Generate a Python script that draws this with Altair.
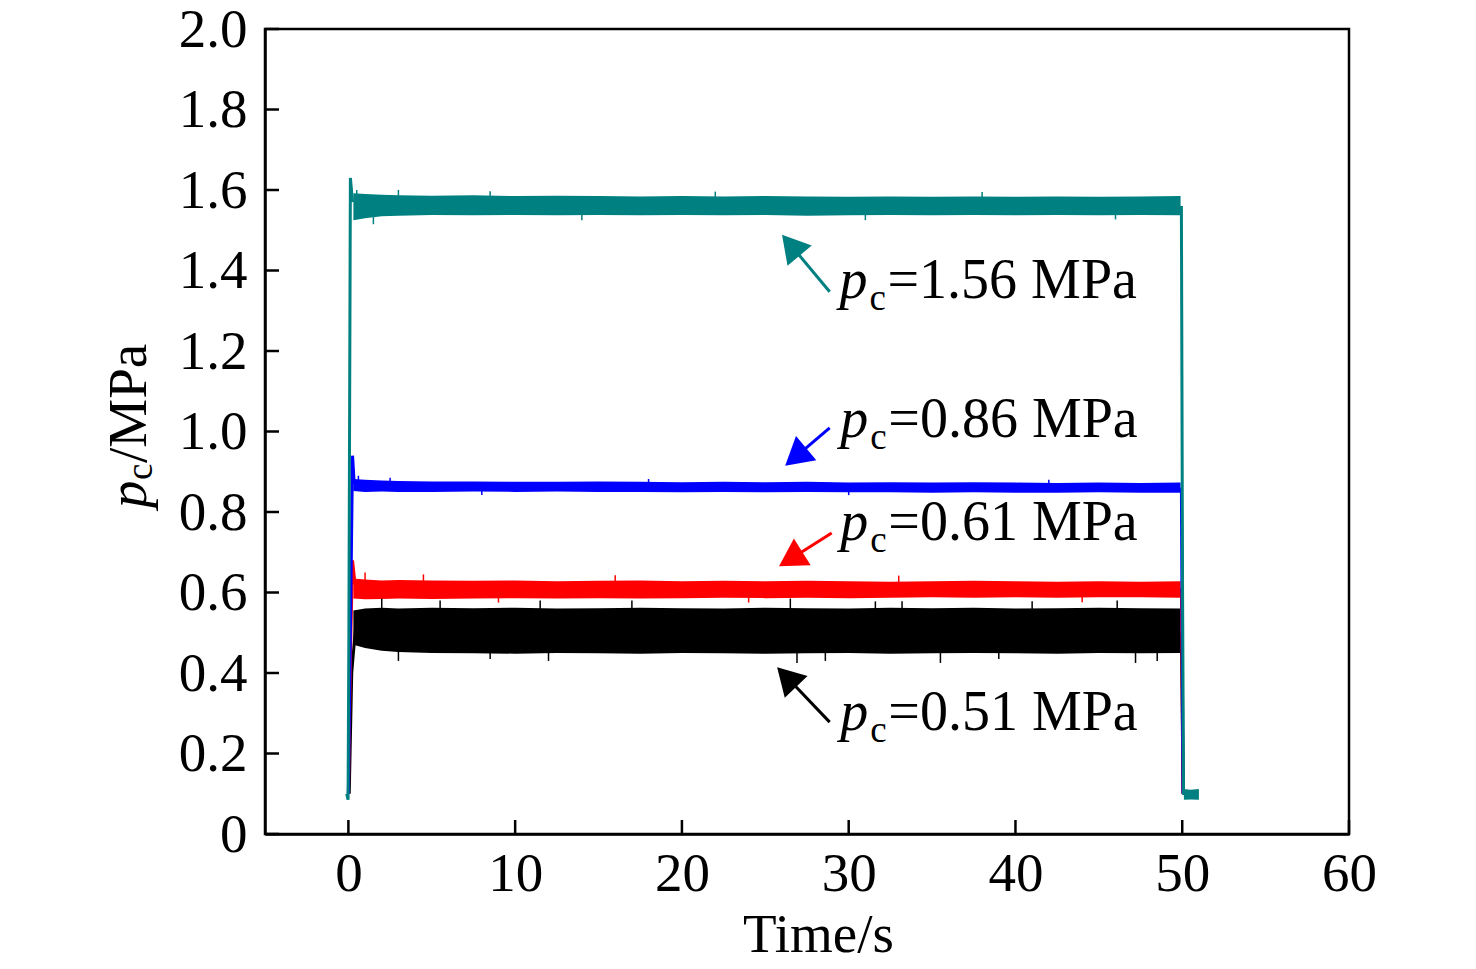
import altair as alt
import pandas as pd

FONT = "Liberation Serif"

# ---------------- axis ticks ----------------
x_ticks = [0, 10, 20, 30, 40, 50, 60]
y_ticks = [0, 0.2, 0.4, 0.6, 0.8, 1.0, 1.2, 1.4, 1.6, 1.8, 2.0]

series_names = ["0.51", "0.61", "0.86", "1.56"]
series_colors = ["#000000", "#FF0000", "#0000FF", "#008080"]

# ---------------- steady-state envelopes (min / max) ----------------
band_t = [0.3, 1, 2, 3, 5, 7.5, 10, 12.5, 15, 17.5, 20, 22.5, 25, 27.5, 30,
          32.5, 35, 37.5, 40, 42.5, 45, 47.5, 49.9]
black_hi = [0.555, 0.560, 0.562, 0.560, 0.562, 0.561, 0.562, 0.560, 0.561, 0.562, 0.561, 0.560,
            0.562, 0.561, 0.560, 0.562, 0.561, 0.562, 0.560, 0.561, 0.562, 0.561, 0.560]
black_lo = [0.470, 0.462, 0.455, 0.452, 0.450, 0.449, 0.448, 0.450, 0.449, 0.448, 0.450, 0.449,
            0.448, 0.449, 0.450, 0.448, 0.449, 0.450, 0.449, 0.448, 0.450, 0.449, 0.450]
red_hi = [0.635, 0.632, 0.630, 0.631, 0.630, 0.629, 0.630, 0.628, 0.629, 0.630, 0.628, 0.629,
          0.628, 0.629, 0.628, 0.627, 0.628, 0.629, 0.628, 0.627, 0.628, 0.627, 0.628]
red_lo = [0.585, 0.583, 0.584, 0.585, 0.584, 0.585, 0.586, 0.585, 0.586, 0.585, 0.586, 0.587,
          0.586, 0.587, 0.586, 0.587, 0.588, 0.587, 0.588, 0.587, 0.588, 0.588, 0.587]
blue_hi = [0.882, 0.880, 0.878, 0.877, 0.876, 0.876, 0.875, 0.875, 0.876, 0.875, 0.874, 0.875,
           0.874, 0.875, 0.873, 0.874, 0.873, 0.874, 0.873, 0.872, 0.873, 0.872, 0.873]
blue_lo = [0.852, 0.850, 0.851, 0.850, 0.850, 0.851, 0.850, 0.851, 0.850, 0.850, 0.849, 0.850,
           0.849, 0.850, 0.849, 0.849, 0.848, 0.849, 0.848, 0.848, 0.849, 0.848, 0.848]
teal_hi = [1.592, 1.590, 1.588, 1.587, 1.586, 1.587, 1.585, 1.586, 1.585, 1.584, 1.585, 1.584,
           1.585, 1.584, 1.583, 1.584, 1.583, 1.584, 1.583, 1.584, 1.583, 1.584, 1.585]
teal_lo = [1.525, 1.530, 1.535, 1.536, 1.538, 1.537, 1.538, 1.537, 1.538, 1.537, 1.538, 1.537,
           1.538, 1.536, 1.537, 1.538, 1.537, 1.538, 1.537, 1.538, 1.537, 1.538, 1.537]

# tail after switch-off (teal)
tail_t = [50.1, 50.5, 51.0]
tail_hi = [0.112, 0.110, 0.112]
tail_lo = [0.085, 0.086, 0.085]

# ---------------- start-up / shut-down traces ----------------
black_up_t = [0.05, 0.2, 0.3, 0.45, 0.8]
black_up_v = [0.10, 0.40, 0.45, 0.52, 0.50]
red_up_t = [0.0, 0.15, 0.25, 0.4]
red_up_v = [0.10, 0.50, 0.68, 0.62]
blue_up_t = [0.0, 0.15, 0.25, 0.35]
blue_up_v = [0.10, 0.60, 0.94, 0.87]
teal_up_t = [-0.1, -0.02, 0.03, 0.12, 0.25]
teal_up_v = [0.100, 0.085, 0.50, 1.63, 1.57]

down_t = [49.95, 50.05]
black_down_v = [0.50, 0.10]
red_down_v = [0.61, 0.10]
blue_down_v = [0.86, 0.10]
teal_down_t = [49.95, 50.02, 50.08]
teal_down_v = [1.56, 0.60, 0.097]

# ---------------- isolated spikes (time, peak value) ----------------
black_spike_t = [2.0, 3.0, 5.5, 8.5, 11.5, 12.0, 17.0, 26.5, 26.9, 28.6, 31.6, 33.2,
                 35.5, 39.0, 41.0, 46.1, 47.2, 48.5]
black_spike_v = [0.585, 0.430, 0.580, 0.435, 0.580, 0.430, 0.580, 0.585, 0.425, 0.430, 0.578, 0.578,
                 0.425, 0.435, 0.578, 0.580, 0.425, 0.430]
red_spike_t = [1.0, 4.5, 9.0, 16.0, 24.0, 33.0, 44.0]
red_spike_v = [0.650, 0.645, 0.575, 0.643, 0.575, 0.642, 0.576]
blue_spike_t = [0.6, 2.5, 8.0, 18.0, 30.0, 42.0]
blue_spike_v = [0.890, 0.885, 0.842, 0.882, 0.842, 0.880]
teal_spike_t = [0.5, 1.5, 3.0, 8.5, 14.0, 22.0, 31.0, 38.0, 46.0]
teal_spike_v = [1.600, 1.515, 1.600, 1.597, 1.525, 1.596, 1.525, 1.595, 1.527]

# ---------------- annotations ----------------
label_values = ["=0.51 MPa", "=0.61 MPa", "=0.86 MPa", "=1.56 MPa"]
label_t = [29.5, 29.5, 29.5, 29.45]
label_v = [0.258, 0.730, 0.986, 1.332]
arrow_tail_t = [28.86, 28.98, 28.86, 28.86]
arrow_tail_v = [0.278, 0.748, 1.009, 1.347]
arrow_head_t = [26.28, 26.52, 26.82, 26.53]
arrow_head_v = [0.390, 0.683, 0.937, 1.463]
arrow_angle = [316, 238, 230, 320]

# ================= build tables =================
band_rows = []
for name, hi, lo in zip(series_names, [black_hi, red_hi, blue_hi, teal_hi],
                        [black_lo, red_lo, blue_lo, teal_lo]):
    for t, h, l in zip(band_t, hi, lo):
        band_rows.append({"series": name, "seg": name + "_main", "t": t, "hi": h, "lo": l})
for t, h, l in zip(tail_t, tail_hi, tail_lo):
    band_rows.append({"series": "1.56", "seg": "tail", "t": t, "hi": h, "lo": l})
bands = pd.DataFrame(band_rows)

trace_rows = []
ups = {"0.51": (black_up_t, black_up_v), "0.61": (red_up_t, red_up_v),
       "0.86": (blue_up_t, blue_up_v), "1.56": (teal_up_t, teal_up_v)}
downs = {"0.51": (down_t, black_down_v), "0.61": (down_t, red_down_v),
         "0.86": (down_t, blue_down_v), "1.56": (teal_down_t, teal_down_v)}
for name in series_names:
    for i, (t, v) in enumerate(zip(*ups[name])):
        trace_rows.append({"series": name, "seg": name + "_up", "t": t, "v": v, "o": i})
    for i, (t, v) in enumerate(zip(*downs[name])):
        trace_rows.append({"series": name, "seg": name + "_down", "t": t, "v": v, "o": i})
traces = pd.DataFrame(trace_rows)

spike_rows = []
spike_mid = {"0.51": 0.51, "0.61": 0.607, "0.86": 0.862, "1.56": 1.56}
for name, ts, vs in zip(series_names, [black_spike_t, red_spike_t, blue_spike_t, teal_spike_t],
                        [black_spike_v, red_spike_v, blue_spike_v, teal_spike_v]):
    for t, v in zip(ts, vs):
        spike_rows.append({"series": name, "t": t, "v": v, "mid": spike_mid[name]})
spikes = pd.DataFrame(spike_rows)

ann = pd.DataFrame({
    "series": series_names, "text": label_values, "lt": label_t, "lv": label_v,
    "tt": arrow_tail_t, "tv": arrow_tail_v, "ht": arrow_head_t, "hv": arrow_head_v,
    "ang": arrow_angle,
})

xs = alt.Scale(domain=[-5, 60], nice=False, zero=False)
ys = alt.Scale(domain=[0, 2.0], nice=False, zero=False)
col = alt.Color("series:N", scale=alt.Scale(domain=series_names, range=series_colors), legend=None)

x_axis = alt.Axis(values=x_ticks, ticks=False, grid=False, labelFont=FONT, labelFontSize=55,
                  labelColor="black", labelPadding=13, domainColor="black", domainWidth=2.5,
                  title="Time/s", titleFont=FONT, titleFontSize=55, titleFontWeight="normal",
                  titleColor="black", titlePadding=7, titleX=553, labelFlush=False)
y_axis = alt.Axis(values=y_ticks, ticks=False, grid=False, labelFont=FONT, labelFontSize=55,
                  labelColor="black", labelPadding=18, domainColor="black", domainWidth=2.5,
                  title=None, labelExpr="datum.value == 0 ? '0' : format(datum.value, '.1f')")

band_layer = alt.Chart(bands).mark_area(opacity=1, strokeWidth=0).encode(
    x=alt.X("t:Q", scale=xs, axis=x_axis),
    y=alt.Y("hi:Q", scale=ys, axis=y_axis),
    y2="lo:Q",
    color=col,
    detail="seg:N",
)

spike_layer = alt.Chart(spikes).mark_rule(strokeWidth=1.5).encode(
    x=alt.X("t:Q", scale=xs), y=alt.Y("v:Q", scale=ys), y2="mid:Q", color=col)

trace_layer = alt.Chart(traces).mark_line(strokeWidth=3).encode(
    x=alt.X("t:Q", scale=xs), y=alt.Y("v:Q", scale=ys), color=col,
    detail="seg:N", order="o:Q")

arrow_line = alt.Chart(ann).mark_rule(strokeWidth=3).encode(
    x=alt.X("tt:Q", scale=xs), y=alt.Y("tv:Q", scale=ys), x2="ht:Q", y2="hv:Q", color=col)
arrow_head = alt.Chart(ann).mark_point(shape="triangle-up", filled=True, opacity=1, size=1000).encode(
    x=alt.X("ht:Q", scale=xs), y=alt.Y("hv:Q", scale=ys), angle=alt.Angle("ang:Q", scale=None),
    color=col)

lab_p = alt.Chart(ann).mark_text(font=FONT, fontSize=56, fontStyle="italic", align="left",
                                 baseline="alphabetic", color="black").encode(
    x=alt.X("lt:Q", scale=xs), y=alt.Y("lv:Q", scale=ys), text=alt.value("p"))
lab_c = alt.Chart(ann).mark_text(font=FONT, fontSize=37, align="left", baseline="alphabetic",
                                 color="black", dx=30, dy=12).encode(
    x=alt.X("lt:Q", scale=xs), y=alt.Y("lv:Q", scale=ys), text=alt.value("c"))
lab_rest = alt.Chart(ann).mark_text(font=FONT, fontSize=56, align="left", baseline="alphabetic",
                                    color="black", dx=48).encode(
    x=alt.X("lt:Q", scale=xs), y=alt.Y("lv:Q", scale=ys), text="text:N")

# inward ticks
xt = pd.DataFrame({"t": x_ticks})
yt = pd.DataFrame({"v": y_ticks})
xtick_layer = alt.Chart(xt).mark_rule(strokeWidth=2.5, color="black").encode(
    x=alt.X("t:Q", scale=xs), y=alt.value(805), y2=alt.value(791))
ytick_layer = alt.Chart(yt).mark_rule(strokeWidth=2.5, color="black").encode(
    y=alt.Y("v:Q", scale=ys), x=alt.value(0), x2=alt.value(14))

# y-axis title p_c/MPa (rotated)
yt_df = pd.DataFrame({"k": [0]})
ytitle_p = alt.Chart(yt_df).mark_text(font=FONT, fontSize=55, fontStyle="italic", align="left",
                                      baseline="alphabetic", angle=270, color="black").encode(
    x=alt.value(-119), y=alt.value(479), text=alt.value("p"))
ytitle_c = alt.Chart(yt_df).mark_text(font=FONT, fontSize=37, align="left", baseline="alphabetic",
                                      angle=270, color="black", dx=28, dy=6).encode(
    x=alt.value(-119), y=alt.value(479), text=alt.value("c"))
ytitle_r = alt.Chart(yt_df).mark_text(font=FONT, fontSize=55, align="left", baseline="alphabetic",
                                      angle=270, color="black", dx=45).encode(
    x=alt.value(-119), y=alt.value(479), text=alt.value("/MPa"))

chart = alt.layer(
    band_layer, spike_layer, trace_layer, arrow_line, arrow_head,
    lab_p, lab_c, lab_rest, xtick_layer, ytick_layer, ytitle_p, ytitle_c, ytitle_r,
).properties(
    width=1084, height=805,
    autosize=alt.AutoSizeParams(type="none"),
    padding={"left": 257, "top": 21, "right": 100, "bottom": 127},
    background="white",
).configure_view(stroke="black", strokeWidth=2.5)

chart.save("out.html", embed_options={"renderer": "svg", "actions": False})
